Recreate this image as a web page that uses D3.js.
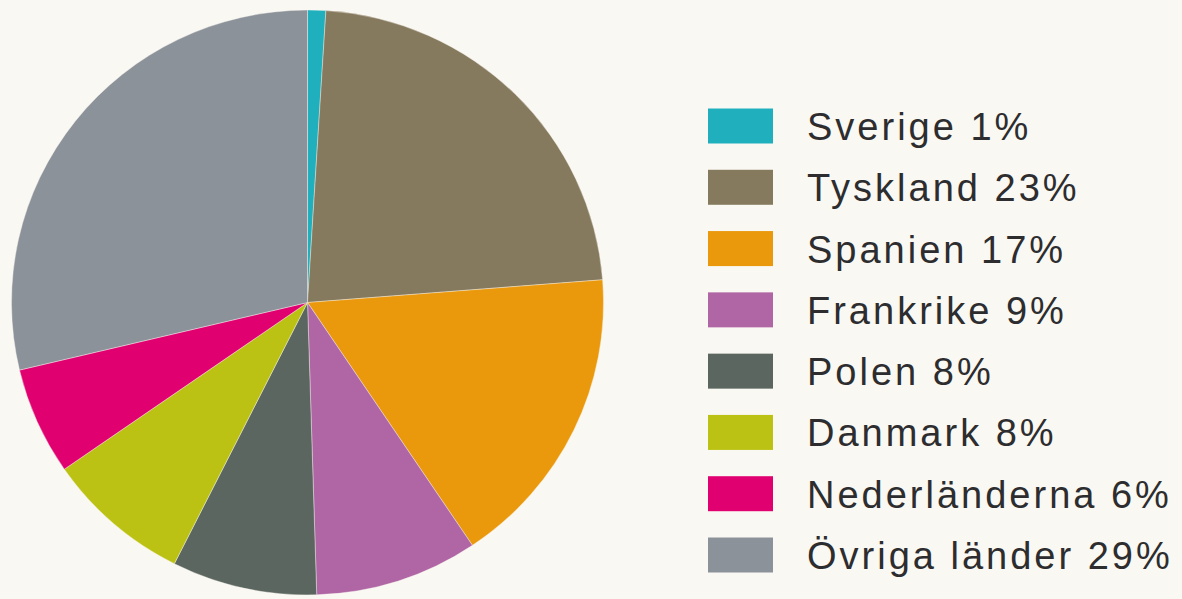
<!DOCTYPE html>
<html><head><meta charset="utf-8">
<script src="https://cdn.jsdelivr.net/npm/d3@7"></script>
<style>html,body{margin:0;padding:0;background:#faf8f2;}</style>
</head><body><svg id="c" width="1182" height="599"></svg>
<script>
const categories = ["Sverige","Tyskland","Spanien","Frankrike","Polen","Danmark","Nederländerna","Övriga länder"];
const values = [1,23,17,9,8,8,6,29];
const colors = ["#1fafbd","#867a5e","#ea980c","#b066a5","#5c6661","#bbc213","#e0006f","#8b9299"];

const svg = d3.select("#c");
svg.append("rect").attr("width",1182).attr("height",599).attr("fill","#faf8f2");

const data = categories.map((c,i)=>({name:c,value:values[i],color:colors[i]}));
const pie = d3.pie().value(d=>d.value).sort(null);
const arc = d3.arc().innerRadius(0).outerRadius(296);
const g = svg.append("g").attr("transform","translate(307.5,302.5) scale(1,0.988)");
g.selectAll("path").data(pie(data)).join("path")
  .attr("d",arc).attr("fill",d=>d.data.color)
  .attr("stroke","#faf8f2").attr("stroke-width",0.4);

const ly = d3.scalePoint().domain(categories).range([126,555]);
const lg = svg.append("g");
const rows = lg.selectAll("g").data(data).join("g")
  .attr("transform",d=>`translate(0,${ly(d.name)})`);
rows.append("rect").attr("x",708).attr("y",-17.5).attr("width",65).attr("height",35).attr("fill",d=>d.color);
rows.append("text").attr("x",807).attr("y",14)
  .attr("font-family","Liberation Sans, Arial, sans-serif")
  .attr("font-size",38).attr("letter-spacing",3)
  .attr("fill","#2d2d2f")
  .text(d=>`${d.name} ${d.value}%`);
</script></body></html>
